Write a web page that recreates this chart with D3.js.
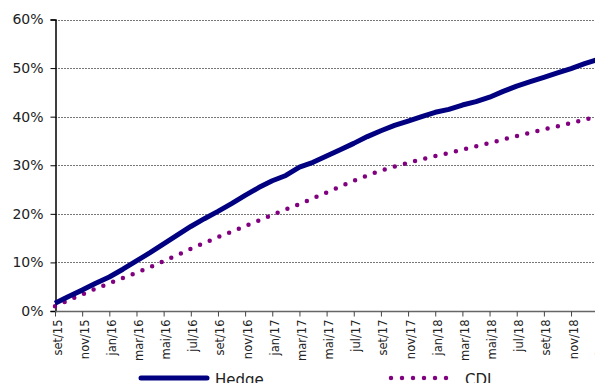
<!DOCTYPE html>
<html lang="pt">
<head>
<meta charset="utf-8">
<script src="https://cdn.jsdelivr.net/npm/d3@7"></script>
<style>
    body { margin: 0; background: #fff; }
    svg { display: block; font-family: "DejaVu Sans", Verdana, sans-serif; }
</style>
</head>
<body>
<div id="chart"></div>
<script>
// monthly series, set/15 .. jan/19
const months = [
    'set/15', 'out/15', 'nov/15', 'dez/15', 'jan/16', 'fev/16', 'mar/16', 'abr/16', 'mai/16', 'jun/16',
    'jul/16', 'ago/16', 'set/16', 'out/16', 'nov/16', 'dez/16', 'jan/17', 'fev/17', 'mar/17', 'abr/17',
    'mai/17', 'jun/17', 'jul/17', 'ago/17', 'set/17', 'out/17', 'nov/17', 'dez/17', 'jan/18', 'fev/18',
    'mar/18', 'abr/18', 'mai/18', 'jun/18', 'jul/18', 'ago/18', 'set/18', 'out/18', 'nov/18', 'dez/18',
    'jan/19'
];
const hedge = [
    1.6, 3.0, 4.3, 5.7, 7.0, 8.6, 10.3, 12.0, 13.8, 15.6,
    17.4, 19.0, 20.5, 22.1, 23.8, 25.4, 26.8, 27.9, 29.6, 30.6,
    31.9, 33.2, 34.5, 35.9, 37.1, 38.2, 39.1, 40.0, 40.9, 41.5,
    42.4, 43.1, 44.0, 45.2, 46.3, 47.2, 48.1, 49.0, 49.9, 50.9,
    51.8
];
const cdi = [
    1.0, 2.2, 3.4, 4.6, 5.7, 6.8, 7.9, 9.0, 10.3, 11.5,
    12.8, 14.0, 15.2, 16.3, 17.5, 18.6, 19.8, 20.9, 22.0, 23.2,
    24.4, 25.6, 26.8, 27.9, 28.9, 29.7, 30.5, 31.2, 31.9, 32.5,
    33.2, 33.9, 34.6, 35.3, 36.0, 36.7, 37.4, 38.0, 38.7, 39.4,
    40.1
];
const yTicks = [0, 10, 20, 30, 40, 50, 60];
const seriesNames = ['Hedge', 'CDI'];

(() => {
    const width = 595, height = 383;
    const left = 55, top = 19.5, bottom = 311;
    const navy = '#000080', purple = '#800080';

    const svg = d3.select('#chart').append('svg')
        .attr('width', width).attr('height', height);

    const x = d3.scalePoint().domain(months).range([left, left + 13.58 * (months.length - 1)]);
    const y = d3.scaleLinear().domain([0, 60]).range([bottom, top]);

    // grid
    svg.append('g')
        .selectAll('line')
        .data(yTicks.filter(d => d > 0))
        .enter().append('line')
        .attr('x1', left).attr('x2', width)
        .attr('y1', d => Math.round(y(d)) + 0.5).attr('y2', d => Math.round(y(d)) + 0.5)
        .attr('stroke', '#777').attr('stroke-width', 1)
        .attr('stroke-dasharray', '2 1');

    // y axis
    const yAxis = svg.append('g')
        .attr('transform', `translate(${left + 0.5},0)`)
        .call(d3.axisLeft(y).tickValues(yTicks).tickFormat(d => d + '%').tickSize(5).tickPadding(7));
    yAxis.select('.domain').attr('stroke', '#000').attr('stroke-width', 1.5);
    yAxis.selectAll('.tick line').attr('stroke', '#000');
    yAxis.selectAll('text').attr('font-size', 14).attr('fill', '#222')
        .attr('font-family', '"DejaVu Sans", Verdana, sans-serif');

    // x axis
    const xAxis = svg.append('g')
        .attr('transform', `translate(0,${bottom + 0.5})`)
        .call(d3.axisBottom(x).tickValues(months.filter((d, i) => i % 2 === 0)).tickSize(5).tickPadding(0));
    xAxis.select('.domain').attr('stroke', '#666').attr('stroke-width', 1.5).attr('d', `M${left},0H${width}`);
    xAxis.selectAll('.tick line').attr('stroke', '#444');
    xAxis.selectAll('text')
        .attr('font-size', 11.5).attr('fill', '#222')
        .attr('font-family', '"DejaVu Sans", Verdana, sans-serif')
        .attr('text-anchor', 'end')
        .attr('dy', null).attr('y', 0)
        .attr('transform', 'translate(6,8) rotate(-90)');

    // lines
    const line = d3.line().x((d, i) => x(months[i])).y(d => y(d));
    svg.append('path')
        .datum(cdi)
        .attr('d', line)
        .attr('fill', 'none')
        .attr('stroke', purple).attr('stroke-width', 4.5)
        .attr('stroke-linecap', 'round')
        .attr('stroke-dasharray', '0 10.5');
    svg.append('path')
        .datum(hedge)
        .attr('d', line)
        .attr('fill', 'none')
        .attr('stroke', navy).attr('stroke-width', 5)
        .attr('stroke-linejoin', 'round');

    // legend
    const legend = svg.append('g');
    legend.append('line')
        .attr('x1', 141).attr('x2', 207).attr('y1', 378).attr('y2', 378)
        .attr('stroke', navy).attr('stroke-width', 5).attr('stroke-linecap', 'round');
    legend.append('line')
        .attr('x1', 391).attr('x2', 457).attr('y1', 378).attr('y2', 378)
        .attr('stroke', purple).attr('stroke-width', 4.5)
        .attr('stroke-linecap', 'round').attr('stroke-dasharray', '0 11');
    legend.selectAll('text')
        .data(seriesNames)
        .enter().append('text')
        .attr('x', (d, i) => i === 0 ? 215 : 465)
        .attr('y', 385)
        .attr('font-size', 15).attr('fill', '#222')
        .text(d => d);
})();
</script>
</body>
</html>
